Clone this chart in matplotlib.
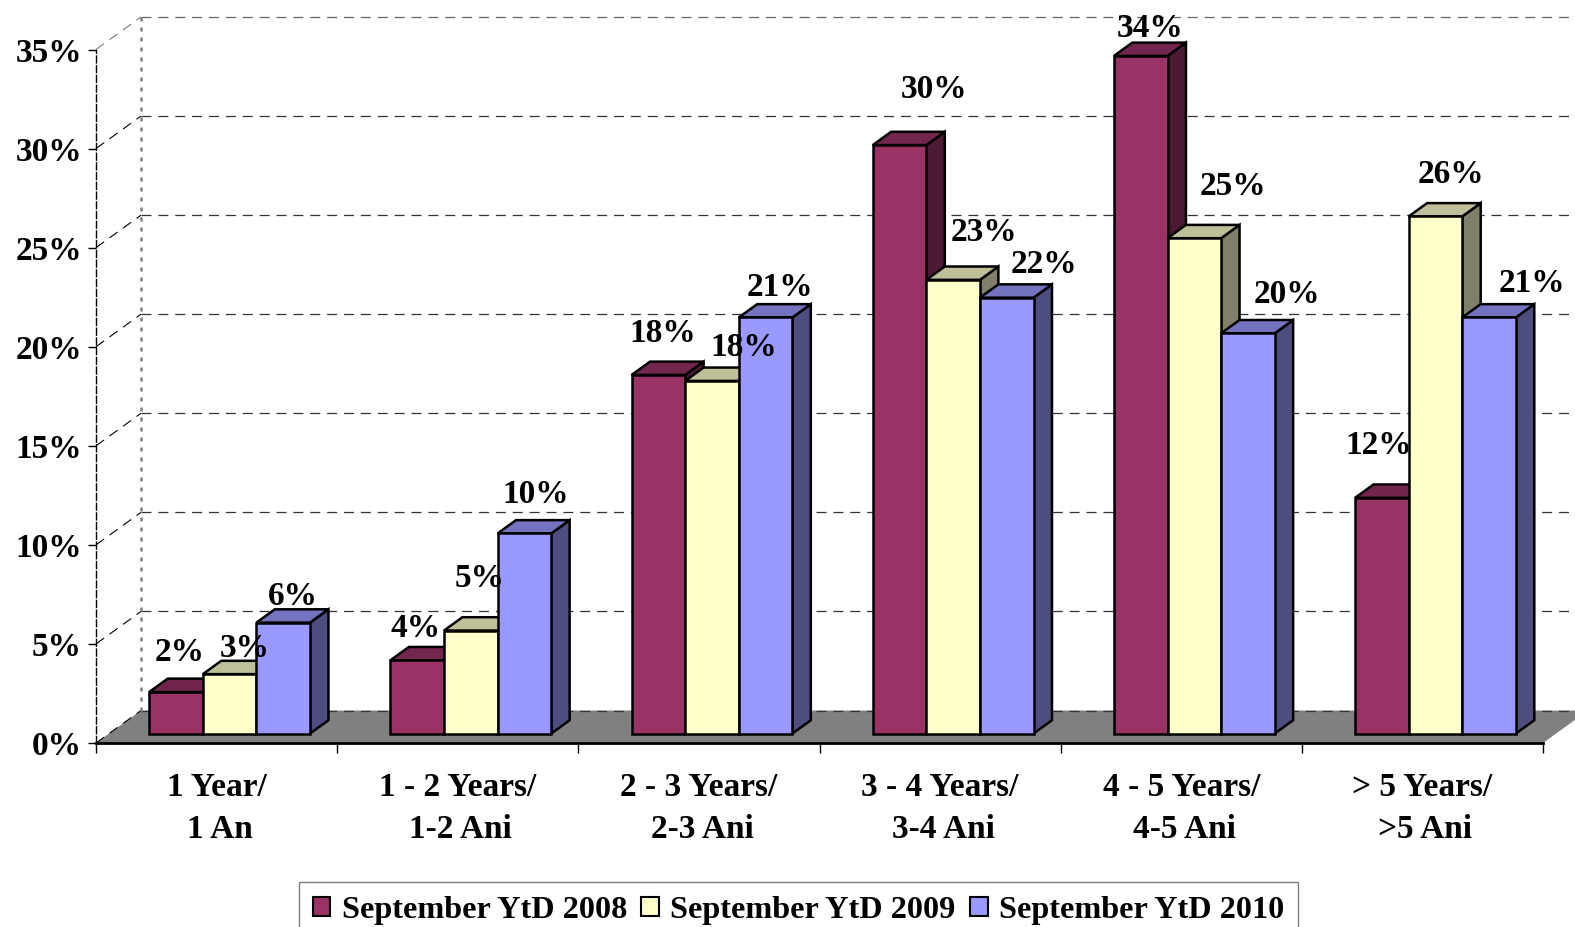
import matplotlib
matplotlib.use('Agg')
import matplotlib.pyplot as plt
from matplotlib.patches import Patch

# ---------------- data ----------------
cat_years = ['1 Year/', '1 - 2 Years/', '2 - 3 Years/', '3 - 4 Years/', '4 - 5 Years/', '> 5 Years/']
cat_ani = ['1 An', '1-2 Ani', '2-3 Ani', '3-4 Ani', '4-5 Ani', '>5 Ani']
series_names = ['September YtD 2008', 'September YtD 2009', 'September YtD 2010']
y2008 = [2.1, 3.7, 18.1, 29.7, 34.2, 11.9]
y2009 = [3.0, 5.2, 17.8, 22.9, 25.0, 26.1]
y2010 = [5.6, 10.1, 21.0, 22.0, 20.2, 21.0]
yticks = [0, 5, 10, 15, 20, 25, 30, 35]

# ---------------- style ----------------
front_col = ['#993366', '#FFFFCC', '#9999FF']
top_col = ['#73264D', '#BFBF99', '#7373BF']
side_col = ['#4D1A33', '#80806A', '#4D4D80']
# label shift from the bar's top centre, pixels (hand placed in the original)
label_dx = [[4, 15, 10], [-2, 9, 11], [4, 32, 14], [34, 31, 37], [9, 39, 39], [-3, 15, 43]]
label_dy = [[39, 26, 26], [32, 52, 39], [41, 33, 30], [56, 47, 33], [27, 52, 39], [52, 42, 34]]

plt.rcParams['font.family'] = ['Liberation Serif', 'DejaVu Serif']
plt.rcParams['font.weight'] = 'bold'
plt.rcParams['font.size'] = 24

W, H = 1575, 927
fig = plt.figure(figsize=(W/100, H/100), dpi=100)
left, right, bottom, top = 96, 1543, 743, 49.5
ax = fig.add_axes([left/W, 1-bottom/H, (right-left)/W, (bottom-top)/H])
ax.set_xlim(0, 6)
ax.set_ylim(0, 35)

# depth of the fake 3D box, in axis units
DX = 45 / ((right-left)/6)
DY = 32.5 / ((bottom-top)/35)
DEPTH_FRONT, DEPTH_BACK = 0.29, 0.70
BAR_W = 2/3/3

def proj(x, v, d):
    return x + d*DX, v + d*DY

def poly(pts, **kw):
    xs = [p[0] for p in pts]
    ys = [p[1] for p in pts]
    ax.fill(xs, ys, clip_on=False, **kw)

# ---------------- walls ----------------
poly([proj(0, 0, 0), proj(6, 0, 0), proj(6, 0, 1), proj(0, 0, 1)],
     facecolor='#808080', edgecolor='none', zorder=1)
for v in yticks:
    xs, ys = zip(proj(0, v, 0), proj(0, v, 1))
    ax.plot(xs, ys, color='#808080' if v == 35 else 'black', lw=0.8, ls=(0, (9, 6)),
            clip_on=False, zorder=2)
    xs, ys = zip(proj(0, v, 1), proj(6, v, 1))
    ax.plot(xs, ys, color='#666666' if v == 35 else '#333333', lw=0.9, ls=(0, (8, 5.5)),
            clip_on=False, zorder=2)
xs, ys = zip(proj(0, 0, 1), proj(0, 35, 1))
ax.plot(xs, ys, color='#808080', lw=1.8, ls=(0, (1.6, 2.4)), clip_on=False, zorder=2)

# ---------------- bars ----------------
values = [y2008, y2009, y2010]
for c in range(len(cat_years)):
    x0 = c + (1 - 3*BAR_W)/2
    for s in range(3):
        v = values[s][c]
        xa = x0 + s*BAR_W
        xb = xa + BAR_W
        kw = dict(edgecolor='black', lw=1.8, joinstyle='miter', zorder=3+c*3+s)
        poly([proj(xb, 0, DEPTH_FRONT), proj(xb, 0, DEPTH_BACK),
              proj(xb, v, DEPTH_BACK), proj(xb, v, DEPTH_FRONT)], facecolor=side_col[s], **kw)
        poly([proj(xa, v, DEPTH_FRONT), proj(xb, v, DEPTH_FRONT),
              proj(xb, v, DEPTH_BACK), proj(xa, v, DEPTH_BACK)], facecolor=top_col[s], **kw)
        poly([proj(xa, 0, DEPTH_FRONT), proj(xb, 0, DEPTH_FRONT),
              proj(xb, v, DEPTH_FRONT), proj(xa, v, DEPTH_FRONT)], facecolor=front_col[s], **kw)
        ax.annotate(f'{v:.0f}%', xy=proj((xa+xb)/2, v, DEPTH_FRONT),
                    xytext=(label_dx[c][s], label_dy[c][s]), textcoords='offset pixels',
                    ha='center', va='center', zorder=100, annotation_clip=False)

# ---------------- axes ----------------
for sp in ['top', 'right']:
    ax.spines[sp].set_visible(False)
ax.spines['left'].set_linestyle((0, (5, 2)))
ax.spines['left'].set_linewidth(1)
ax.spines['bottom'].set_linewidth(2)
ax.spines['bottom'].set_zorder(50)
ax.set_yticks(yticks)
ax.set_yticklabels([f'{v}%' for v in yticks])
ax.set_xticks(range(7))
ax.set_xticklabels([])
ax.tick_params(axis='y', length=6, width=1, pad=4)
ax.tick_params(axis='x', length=7.5, width=1)
for c in range(len(cat_years)):
    ax.annotate(cat_years[c], xy=(c+0.5, 0), xytext=(0, -45), textcoords='offset pixels',
                ha='center', va='center', annotation_clip=False)
    ax.annotate(cat_ani[c], xy=(c+0.5, 0), xytext=(3, -86), textcoords='offset pixels',
                ha='center', va='center', annotation_clip=False)

# ---------------- legend ----------------
handles = [Patch(facecolor=front_col[i], edgecolor='black', lw=1.5) for i in range(3)]
leg = fig.legend(handles, series_names, ncol=3, loc='upper left', prop={'size': 23.2},
                 bbox_to_anchor=(299/W, 1-882/H), frameon=True, fancybox=False,
                 edgecolor='#808080', framealpha=1, borderpad=0.42, borderaxespad=0,
                 handlelength=0.54, handleheight=0.54, handletextpad=0.36, columnspacing=0.45)
leg.get_frame().set_linewidth(1)

fig.savefig('out.png', dpi=100)
